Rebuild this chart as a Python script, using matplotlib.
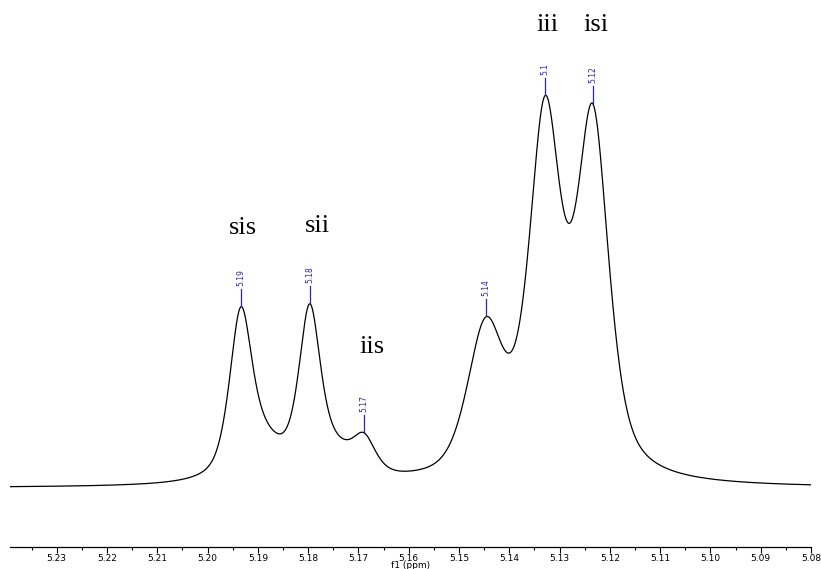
import numpy as np
import matplotlib
matplotlib.use("Agg")
import matplotlib.pyplot as plt

# Resolved lines of the olefinic region (chemical shift, height, half width)
peak_ppm = [5.1934, 5.1797, 5.1689, 5.1447, 5.1329, 5.1234]
peak_height = [162, 165, 36, 143, 352, 350]
peak_hwhm = [0.0027, 0.0026, 0.0028, 0.0043, 0.0038, 0.0038]
peak_eta = [0.6, 0.6, 0.6, 0.5, 0.6, 0.6]
peak_labels = ["5.19", "5.18", "5.17", "5.14", "5.1", "5.12"]

# Unresolved lines that fill the valleys between the saturated-side peaks
hidden_ppm = [5.1885, 5.1745]
hidden_height = [29, 20]
hidden_hwhm = [0.0045, 0.0040]
hidden_eta = [0.5, 0.5]

# Triad assignments written above the peaks
assign_text = ["sis", "sii", "iis", "iii", "isi"]
assign_ppm = [5.1930, 5.1781, 5.1673, 5.1325, 5.1228]
assign_int = [260, 262, 141, 463, 463]

x_ticks = [5.23, 5.22, 5.21, 5.20, 5.19, 5.18, 5.17, 5.16, 5.15,
           5.14, 5.13, 5.12, 5.11, 5.10, 5.09, 5.08]
x_left, x_right = 5.2393, 5.0800


def pseudo_voigt(x, c, h, w, eta):
    u = ((x - c) / w) ** 2
    return h * (eta / (1.0 + u) + (1.0 - eta) * np.exp(-np.log(2.0) * u))


def spectrum(x):
    y = np.zeros_like(x)
    for c, h, w, e in zip(peak_ppm, peak_height, peak_hwhm, peak_eta):
        y += pseudo_voigt(x, c, h, w, e)
    for c, h, w, e in zip(hidden_ppm, hidden_height, hidden_hwhm, hidden_eta):
        y += pseudo_voigt(x, c, h, w, e)
    return y


fig = plt.figure(figsize=(8.21, 5.69), dpi=100)
ax = fig.add_axes([10 / 821, 22 / 569, 801 / 821, 547 / 569])

ppm = np.linspace(x_left, x_right, 3000)
ax.plot(ppm, spectrum(ppm), color="black", lw=0.9)

ax.set_xlim(x_left, x_right)
ax.set_ylim(-59, 488)

label_color = "#2626a8"
for c, lab in zip(peak_ppm, peak_labels):
    top = spectrum(np.array([c]))[0]
    ax.plot([c, c], [top + 1, top + 18], color=label_color, lw=0.9)
    ax.text(c, top + 21, lab, rotation=90, ha="center", va="bottom",
            fontsize=5.5, color=label_color, family="DejaVu Sans")

for t, xp, yp in zip(assign_text, assign_ppm, assign_int):
    ax.text(xp, yp, t, ha="center", va="center", fontsize=19,
            family="Liberation Serif", color="black")

for s in ["left", "right", "top"]:
    ax.spines[s].set_visible(False)
ax.spines["bottom"].set_linewidth(0.9)
ax.set_yticks([])
ax.set_xticks(x_ticks)
ax.set_xticklabels([f"{v:.2f}" for v in x_ticks])
ax.set_xticks(np.arange(5.235, 5.08, -0.01), minor=True)
ax.tick_params(axis="x", which="major", length=4, width=0.8, labelsize=6.5,
               pad=1)
ax.tick_params(axis="x", which="minor", length=2.5, width=0.8)
ax.set_xlabel("f1 (ppm)", fontsize=6.5, va="top")
ax.xaxis.set_label_coords(0.5, -13.5 / 547)

fig.savefig("out.png", dpi=100)
